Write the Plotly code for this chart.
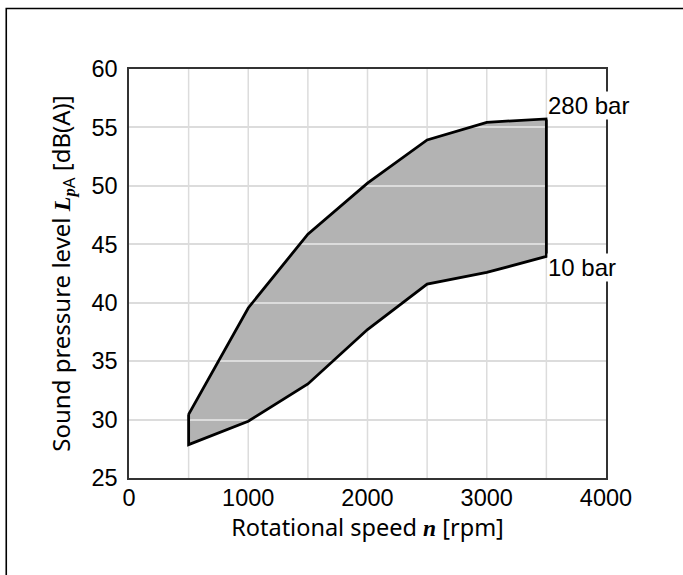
import plotly.graph_objects as go

# Data
speed = [500, 1000, 1500, 2000, 2500, 3000, 3500]
level_280bar = [30.45, 39.55, 45.87, 50.23, 53.93, 55.44, 55.73]
level_10bar = [27.86, 29.86, 33.05, 37.70, 41.60, 42.59, 43.96]
x_ticks = [0, 1000, 2000, 3000, 4000]
y_ticks = [25, 30, 35, 40, 45, 50, 55, 60]
x_grid = [0, 500, 1000, 1500, 2000, 2500, 3000, 3500, 4000]
label_hi = "280 bar"
label_lo = "10 bar"

# closed polygon: upper curve forward, lower curve backward
poly_x = speed + speed[::-1] + [speed[0]]
poly_y = level_280bar + level_10bar[::-1] + [level_280bar[0]]

path = "M " + " L ".join(f"{x},{y}" for x, y in zip(poly_x[:-1], poly_y[:-1])) + " Z"

fig = go.Figure()
fig.add_trace(go.Scatter(x=poly_x, y=poly_y, mode="lines",
                         line=dict(color="black", width=2.8),
                         hoverinfo="skip", showlegend=False))

fig.add_shape(type="path", path=path, xref="x", yref="y", layer="below",
              fillcolor="#b3b3b3", line=dict(width=0))

# outer frame (right and bottom edges fall outside the picture, as in the reference)
W, H = 683, 575
ml, mr, mt, mb = 128.5, 76.5, 69, 96.5
pw, ph = W - ml - mr, H - mt - mb
def px(x):
    return (x - ml) / pw
def py(y):
    return (H - mb - y) / ph
fig.add_shape(type="rect", xref="paper", yref="paper",
              x0=px(5.5), x1=px(690), y0=py(582), y1=py(8.5),
              line=dict(color="black", width=1.6), fillcolor="rgba(0,0,0,0)")

fig.add_annotation(x=speed[-1], y=level_280bar[-1], text=label_hi, showarrow=False,
                   xanchor="left", yanchor="bottom", xshift=1, yshift=-1,
                   bgcolor="white", borderpad=0,
                   font=dict(family="Liberation Sans", size=24, color="black"))
fig.add_annotation(x=speed[-1], y=level_10bar[-1], text=label_lo, showarrow=False,
                   xanchor="left", yanchor="top", xshift=1, yshift=3,
                   bgcolor="white", borderpad=0,
                   font=dict(family="Liberation Sans", size=24, color="black"))

serif = "font-family:'Liberation Serif'"
fig.update_layout(
    width=W, height=H,
    margin=dict(l=ml, r=mr, t=mt, b=mb, pad=0),
    paper_bgcolor="white", plot_bgcolor="white",
    showlegend=False,
    xaxis=dict(range=[0, 4000], tickvals=x_ticks, ticktext=[str(v) for v in x_ticks],
               showgrid=False, zeroline=False,
               showline=True, linecolor="#333333", linewidth=1.5, mirror=True,
               ticks="", ticklabelstandoff=-2,
               tickfont=dict(family="Liberation Sans", size=23.5, color="black"),
               title=dict(text=f"Rotational speed <span style=\"{serif}\"><b><i>n</i></b></span> [rpm]",
                          font=dict(family="Noto Sans", size=23.5, color="black"), standoff=8)),
    yaxis=dict(range=[25, 60], tickvals=y_ticks, showgrid=True, gridcolor="#dcdcdc", gridwidth=1.5,
               zeroline=False,
               showline=True, linecolor="#333333", linewidth=1.5, mirror=True,
               ticks="", ticklabelstandoff=5,
               tickfont=dict(family="Liberation Sans", size=23.5, color="black"),
               title=dict(text=f"Sound pressure level <span style=\"{serif}\"><b><i>L</i></b></span><sub><span style=\"{serif}\"><b><i>p</i></b></span>A</sub> [dB(A)]",
                          font=dict(family="Noto Sans", size=24, color="black"), standoff=14)),
)

# vertical gridlines every 500 rpm (drawn through the x scale)
for g in x_grid[1:-1]:
    fig.add_shape(type="line", xref="x", yref="paper", x0=g, x1=g, y0=0, y1=1,
                  layer="between", line=dict(color="#dcdcdc", width=1.5))

# the page body has no margin, so the figure starts at the window's corner
fig.write_html("out.html", config={"displayModeBar": False},
               post_script="document.body.style.margin='0';document.body.style.overflow='hidden';")
